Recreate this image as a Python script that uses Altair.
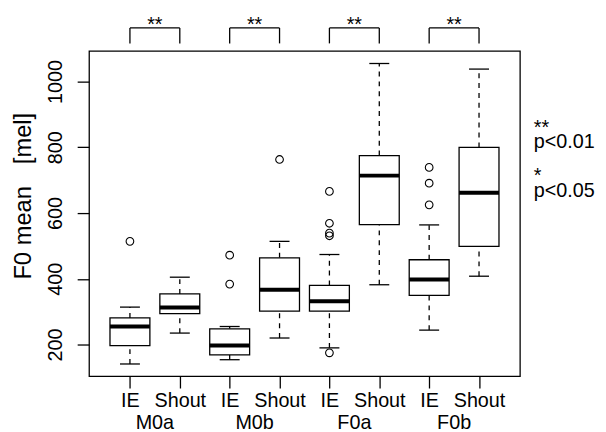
import altair as alt
import pandas as pd

# ---- data ----
groups = ["M0a", "M0b", "F0a", "F0b"]
conditions = ["IE", "Shout"]
lower_whisker = [141, 235, 154, 220, 190, 382, 244, 408]
q1 = [197, 294, 169, 302, 302, 565, 350, 499]
median = [255, 313, 197, 367, 332, 714, 398, 662]
q3 = [281, 354, 248, 464, 380, 775, 458, 800]
upper_whisker = [314, 405, 255, 514, 474, 1055, 564, 1038]
outliers = [[514], [], [384, 472], [763], [175, 531, 539, 569, 666], [], [625, 691, 739], []]
significance = ["**", "**", "**", "**"]
y_ticks = [200, 400, 600, 800, 1000]
legend_lines = ["**", "p<0.01", "*", "p<0.05"]
y_title_parts = ["F0 mean", "[mel]"]

FONT = "Liberation Sans"
BOX_HALF = 0.4
CAP_HALF = 0.2
LW = 1.3

n = len(groups) * len(conditions)
pos = list(range(1, n + 1))
boxes = pd.DataFrame({
    "pos": pos,
    "left": [p - BOX_HALF for p in pos],
    "right": [p + BOX_HALF for p in pos],
    "capl": [p - CAP_HALF for p in pos],
    "capr": [p + CAP_HALF for p in pos],
    "lw": lower_whisker, "q1": q1, "med": median, "q3": q3, "uw": upper_whisker,
})
out_df = pd.DataFrame([{"pos": i + 1, "v": v} for i, vs in enumerate(outliers) for v in vs])
grp = pd.DataFrame({
    "group": groups,
    "a": [2 * i + 1 for i in range(len(groups))],
    "b": [2 * i + 2 for i in range(len(groups))],
    "c": [2 * i + 1.5 for i in range(len(groups))],
    "sig": significance,
})
legs = pd.DataFrame({"pos": pos})

xscale = alt.Scale(domain=[0.18, 8.82], nice=False, zero=False)
yscale = alt.Scale(domain=[104, 1093], nice=False, zero=False)

xaxis = alt.Axis(values=pos, labelExpr=f"{conditions}[(datum.value - 1) % 2]",
                 tickSize=12, tickWidth=LW, tickColor="black", labelPadding=18.7,
                 labelBaseline="alphabetic",
                 labelFontSize=20, labelFont=FONT, labelColor="black", labelAngle=0,
                 labelFlush=False, labelOverlap=False, domain=False, grid=False, title=None)
yaxis = alt.Axis(values=y_ticks, format="d", tickSize=12, tickWidth=LW, tickColor="black",
                 labelAngle=270, labelAlign="center", labelBaseline="alphabetic", labelPadding=16,
                 labelFontSize=20, labelFont=FONT, labelColor="black",
                 domain=False, grid=False, title=None)


def X(f):
    return alt.X(f, type="quantitative", scale=xscale, axis=xaxis)


def Y(f):
    return alt.Y(f, type="quantitative", scale=yscale, axis=yaxis)


base = alt.Chart(boxes)
wu = base.mark_rule(color="black", strokeWidth=LW, strokeDash=[5, 5]).encode(x=X("pos"), y=Y("q3"), y2="uw")
wd = base.mark_rule(color="black", strokeWidth=LW, strokeDash=[5, 5]).encode(x=X("pos"), y=Y("lw"), y2="q1")
cu = base.mark_rule(color="black", strokeWidth=LW).encode(x=X("capl"), x2="capr", y=Y("uw"))
cd = base.mark_rule(color="black", strokeWidth=LW).encode(x=X("capl"), x2="capr", y=Y("lw"))
bx = base.mark_rect(fill="white", stroke="black", strokeWidth=LW).encode(x=X("left"), x2="right", y=Y("q1"), y2="q3")
md = base.mark_rule(color="black", strokeWidth=4).encode(x=X("left"), x2="right", y=Y("med"))
pts = alt.Chart(out_df).mark_point(shape="circle", filled=False, color="black", size=60, strokeWidth=1.1, opacity=1).encode(
    x=X("pos"), y=Y("v"))

gb = alt.Chart(grp)
br_h = gb.mark_rule(color="black", strokeWidth=LW).encode(x=X("a"), x2="b", y=alt.value(-23.3))
br_v = alt.Chart(legs).mark_rule(color="black", strokeWidth=LW).encode(x=X("pos"), y=alt.value(-23.3), y2=alt.value(-7.7))
stars = gb.mark_text(font=FONT, fontSize=20, color="black", baseline="alphabetic").encode(
    x=X("c"), y=alt.value(-20.5), text="sig")
glab = gb.mark_text(font=FONT, fontSize=20, color="black", baseline="alphabetic").encode(
    x=X("c"), y=alt.value(382), text="group")

leg_df = pd.DataFrame({"t": legend_lines, "i": list(range(len(legend_lines)))})
leg_y = [83.5, 98, 132.5, 148]
leg_layers = [
    alt.Chart(leg_df).transform_filter(alt.datum.i == i).mark_text(
        font=FONT, fontSize=20, color="black", align="left", baseline="alphabetic"
    ).encode(x=alt.value(450), y=alt.value(yy), text="t:N")
    for i, yy in enumerate(leg_y)
]

ttl_df = pd.DataFrame({"t": y_title_parts, "i": [0, 1]})
ttl_y = [184, 88.5]
ttl_layers = [
    alt.Chart(ttl_df).transform_filter(alt.datum.i == i).mark_text(
        font=FONT, fontSize=24, color="black", align="center", baseline="alphabetic", angle=270
    ).encode(x=alt.value(-58.3), y=alt.value(yy), text="t:N")
    for i, yy in enumerate(ttl_y)
]

chart = alt.layer(wu, wd, cu, cd, bx, md, pts, br_h, br_v, stars, glab, *leg_layers, *ttl_layers).properties(
    width=436, height=329,
    autosize=alt.AutoSizeParams(type="none"),
    padding={"left": 82, "top": 41, "right": 79, "bottom": 54},
    background="white",
).configure_view(stroke="black", strokeWidth=LW)

chart.save("out.html", embed_options={"renderer": "svg", "actions": False})
